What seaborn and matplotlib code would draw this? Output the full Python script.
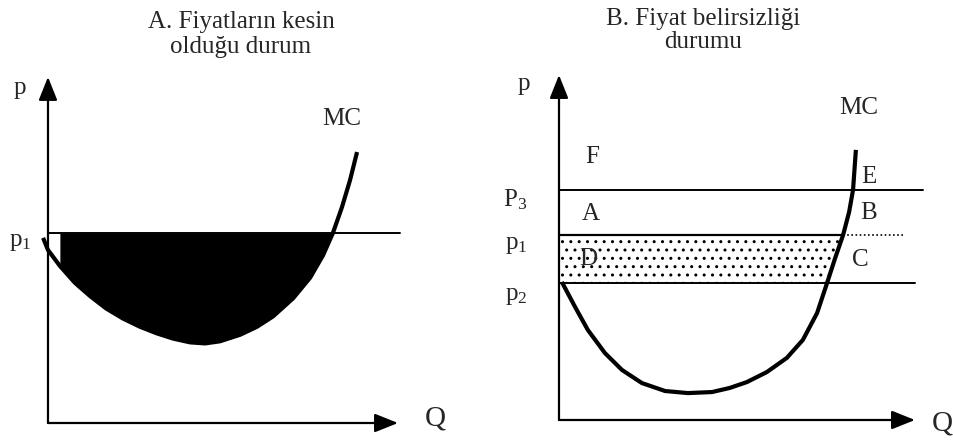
import numpy as np
import matplotlib
matplotlib.use("Agg")
import matplotlib.pyplot as plt
import seaborn as sns

# Panel A: MC curve (Q, p)
q_a = np.array([-0.14, 0.00, 0.34, 0.77, 1.20, 1.66, 2.14, 2.63, 3.11, 3.57, 4.06, 4.49,
                4.91, 5.49, 5.97, 6.43, 7.00, 7.49, 7.86, 8.14, 8.40, 8.63, 8.83])
mc_a = np.array([5.35, 5.00, 4.54, 4.05, 3.67, 3.31, 3.02, 2.78, 2.59, 2.44, 2.33, 2.30,
                 2.36, 2.55, 2.78, 3.08, 3.60, 4.20, 4.85, 5.49, 6.24, 7.02, 7.83])
p1_a = 5.49

# Panel B: MC curve and the three price levels
q_b = np.array([0.08, 0.45, 0.81, 1.29, 1.77, 2.33, 2.98, 3.62, 4.30, 4.80, 5.28, 5.84,
                6.40, 6.85, 7.25, 7.53, 7.75, 7.98, 8.15, 8.26, 8.34])
mc_b = np.array([4.00, 3.28, 2.61, 1.94, 1.45, 1.07, 0.84, 0.78, 0.81, 0.93, 1.10, 1.39,
                 1.80, 2.32, 3.10, 3.97, 4.67, 5.36, 6.03, 6.67, 7.83])
p3_b, p1_b, p2_b = 6.68, 5.36, 3.97

titles_a = ["A. Fiyatların kesin", "olduğu durum"]
titles_b = ["B. Fiyat belirsizliği", "durumu"]

sns.set_style("white")
plt.rcParams["font.family"] = ["Liberation Serif", "DejaVu Serif"]
plt.rcParams["mathtext.fontset"] = "custom"
plt.rcParams["mathtext.rm"] = "Liberation Serif"
plt.rcParams["mathtext.it"] = "Liberation Serif:italic"

W, H = 954, 443
fig = plt.figure(figsize=(W / 100, H / 100), dpi=100)
ax_a = fig.add_axes([0, 0, 470 / W, 383 / H])
ax_b = fig.add_axes([470 / W, 0, 484 / W, 383 / H])
ax_a.set_xlim(-1.371, 12.057)
ax_a.set_ylim(-0.578, 10.49)
ax_b.set_xlim(-2.5, 11.096)
ax_b.set_ylim(-0.667, 10.435)
for ax in (ax_a, ax_b):
    ax.axis("off")

arrow = dict(arrowstyle="-|>,head_length=0.55,head_width=0.22", lw=1.6, color="black",
             mutation_scale=26, shrinkA=0, shrinkB=0)
fs = 18
curve_kw = dict(color="black", lw=3, sort=False, estimator=None,
                solid_joinstyle="round", solid_capstyle="butt")

def draw_axes(ax):
    ax.annotate("", xy=(10, 0), xytext=(0, 0), arrowprops=arrow)
    ax.annotate("", xy=(0, 10), xytext=(0, 0), arrowprops=arrow)

# ---- Panel A ----
draw_axes(ax_a)
mask = (q_a >= 0.34)
ax_a.fill_between(q_a[mask], mc_a[mask], p1_a, where=mc_a[mask] <= p1_a,
                  interpolate=True, color="black", lw=0)
ax_a.plot([0, 10.05], [p1_a, p1_a], color="black", lw=1.4)
sns.lineplot(x=q_a, y=mc_a, ax=ax_a, **curve_kw)
ax_a.text(-0.8, 9.68, "p", fontsize=fs, ha="center", va="center")
ax_a.text(-0.8, 5.23, r"$\mathrm{p}_1$", fontsize=fs, ha="center", va="center")
ax_a.text(8.4, 8.79, "MC", fontsize=fs, ha="center", va="center")
ax_a.text(11.06, 0.14, "Q", fontsize=fs + 3, ha="center", va="center")

# ---- Panel B ----
draw_axes(ax_b)
band = (q_b > 5) & (mc_b >= p2_b - 0.01) & (mc_b <= p1_b + 0.01)
ax_b.fill_betweenx(mc_b[band], 0.05, q_b[band], facecolor="white", edgecolor="black",
                   hatch="..", lw=0)
ax_b.plot([0, 10.22], [p3_b, p3_b], color="black", lw=1.4)
ax_b.plot([0, q_b[band][-1]], [p1_b, p1_b], color="black", lw=1.6)
ax_b.plot([q_b[band][-1], 9.72], [p1_b, p1_b], color="black", lw=1.2, ls=(0, (1, 1.5)))
ax_b.plot([0, 10.0], [p2_b, p2_b], color="black", lw=1.4)
sns.lineplot(x=q_b, y=mc_b, ax=ax_b, **curve_kw)

labels_b = [("p", -0.98, 9.74), ("MC", 8.43, 9.04), ("F", 0.93, 7.62), ("E", 8.71, 7.04),
            (r"$\mathrm{P}_3$", -1.24, 6.4), ("A", 0.9, 5.97), ("B", 8.71, 6.0),
            (r"$\mathrm{p}_1$", -1.21, 5.07), ("D", 0.81, 4.67), ("C", 8.46, 4.64),
            (r"$\mathrm{p}_2$", -1.21, 3.59)]
for s, x, y in labels_b:
    ax_b.text(x, y, s, fontsize=fs, ha="center", va="center")
ax_b.text(10.76, -0.09, "Q", fontsize=fs + 3, ha="center", va="center")

# titles
fig.text(241 / W, 1 - 28 / H, titles_a[0], fontsize=fs, ha="center", va="baseline")
fig.text(241 / W, 1 - 53 / H, titles_a[1], fontsize=fs, ha="center", va="baseline")
fig.text(703 / W, 1 - 25 / H, titles_b[0], fontsize=fs, ha="center", va="baseline")
fig.text(703 / W, 1 - 48 / H, titles_b[1], fontsize=fs, ha="center", va="baseline")

fig.savefig("out.png", dpi=100, facecolor="white")
